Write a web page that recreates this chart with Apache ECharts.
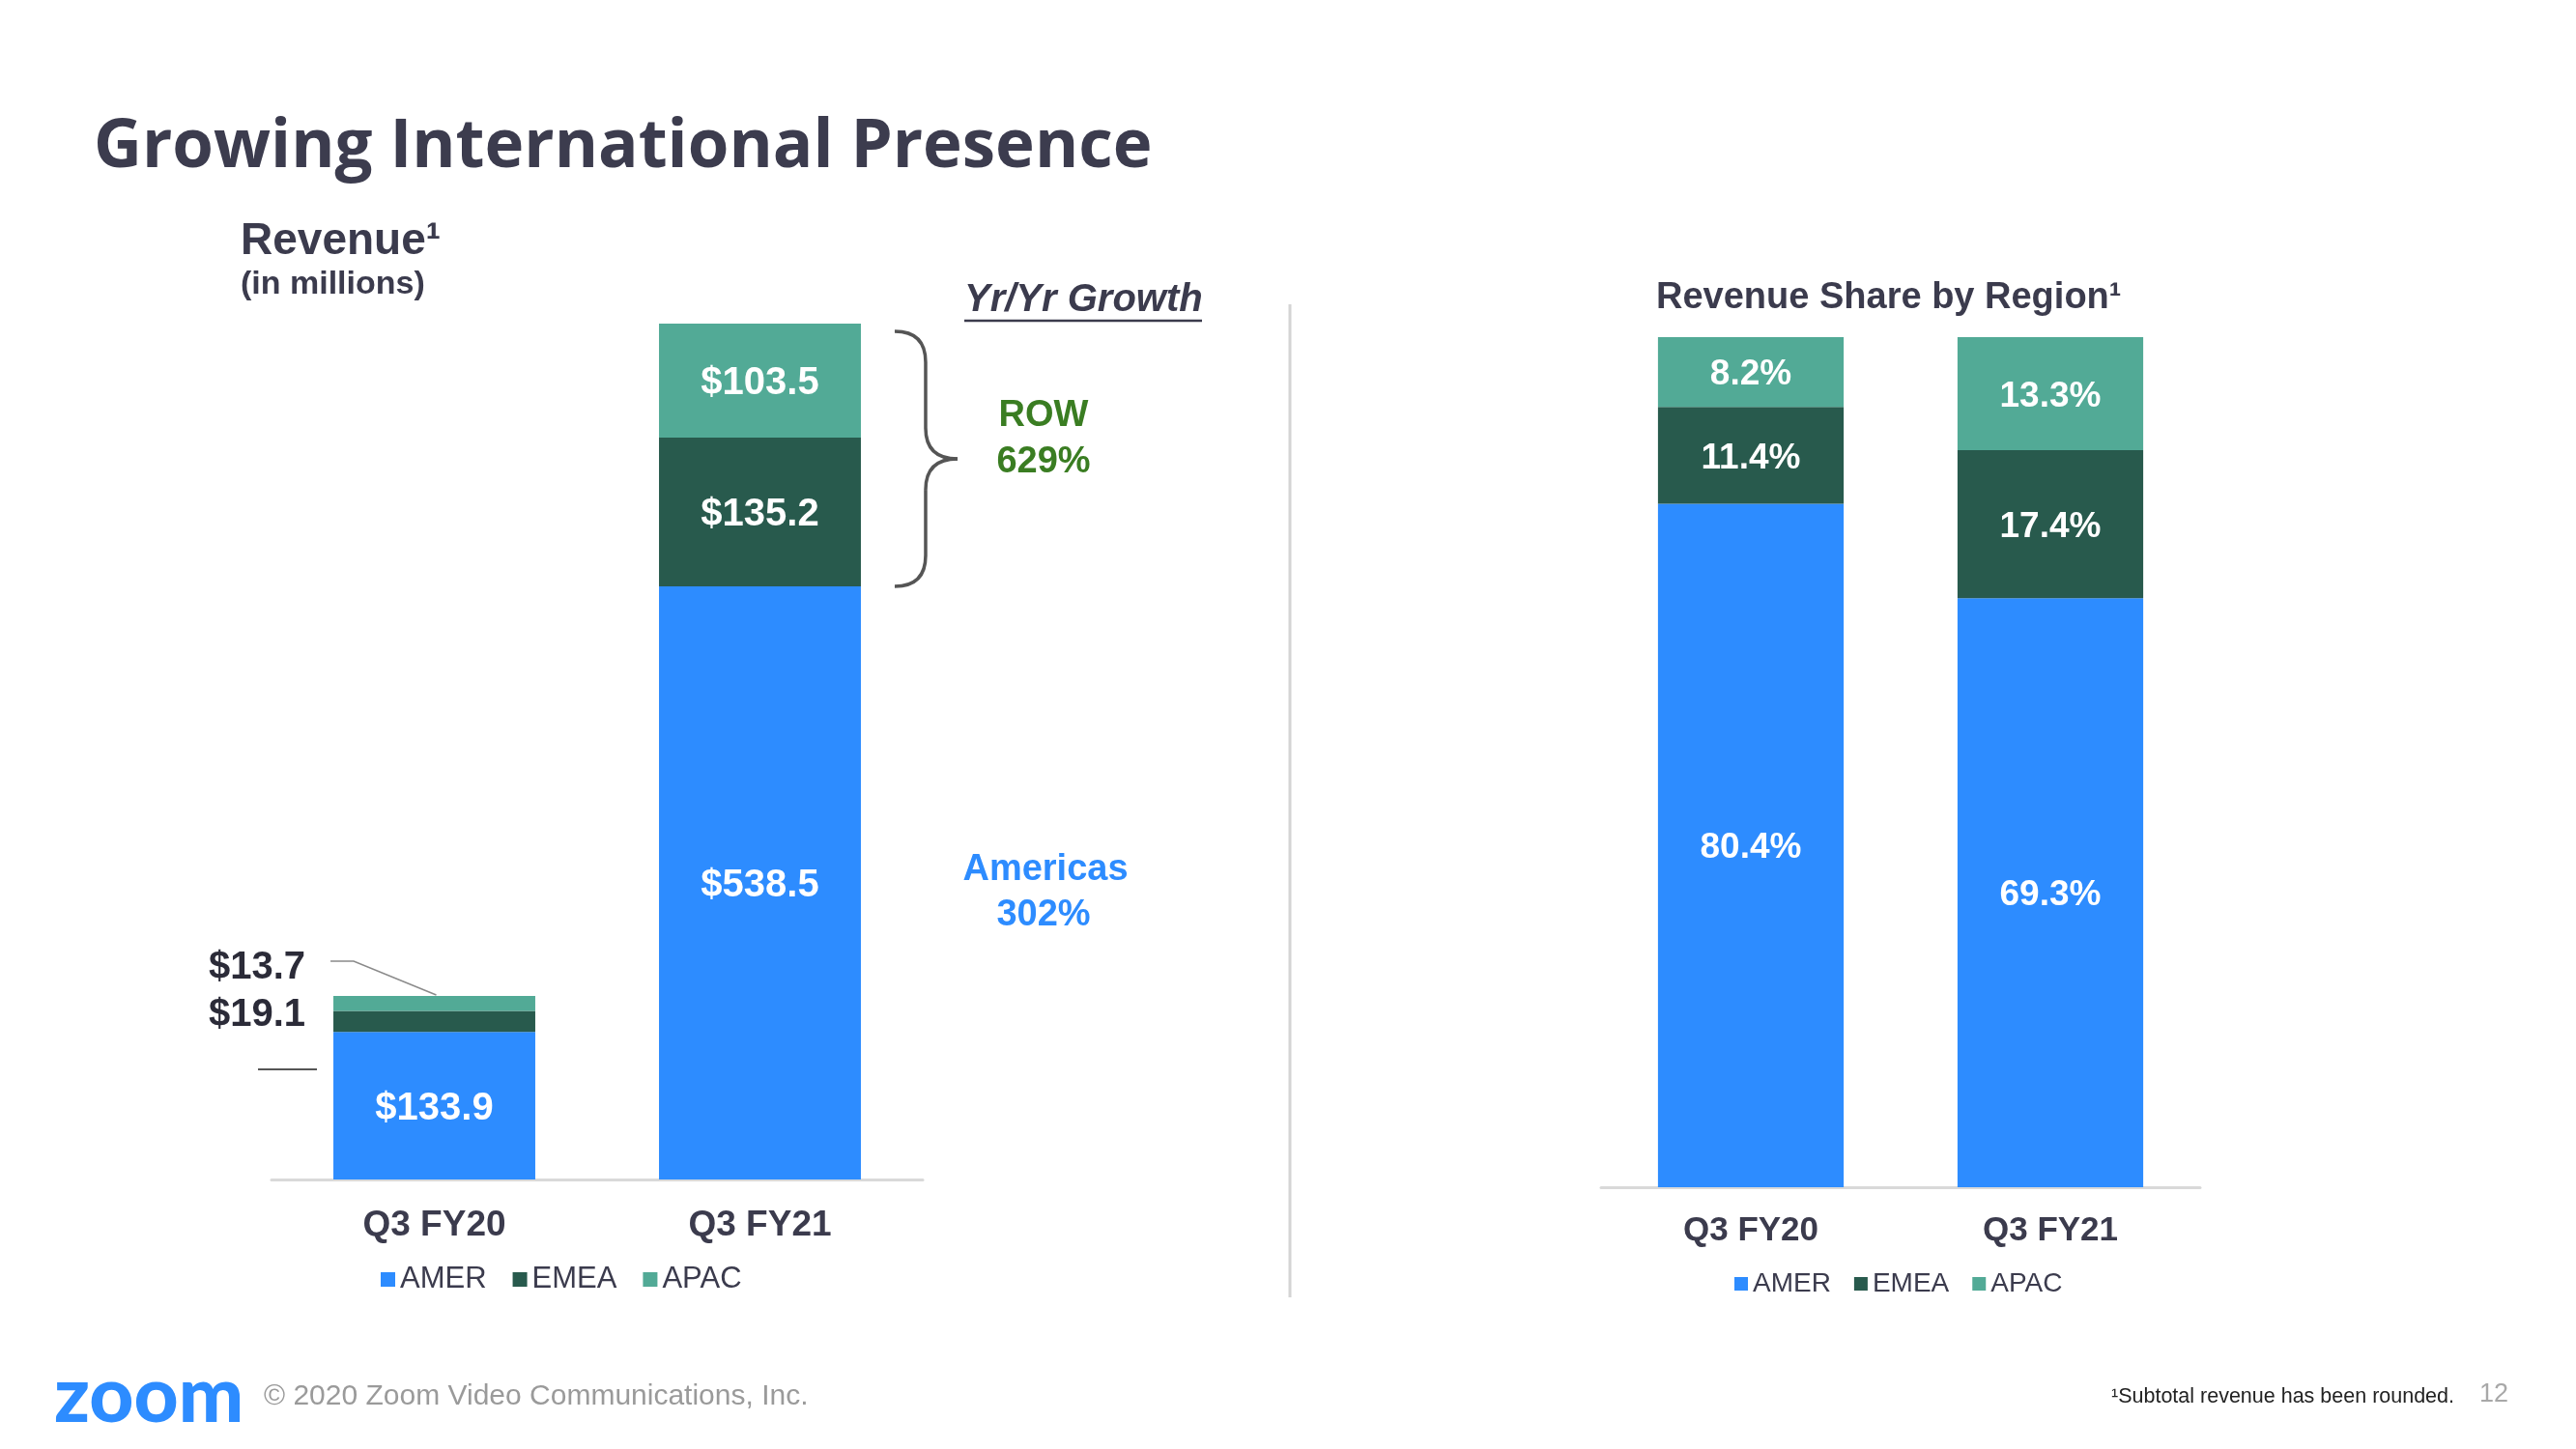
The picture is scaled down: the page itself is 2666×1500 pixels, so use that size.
<!DOCTYPE html>
<html>
<head>
<meta charset="utf-8">
<script src="https://cdn.jsdelivr.net/npm/echarts@6/dist/echarts.min.js"></script>
<style>
html,body{margin:0;padding:0;background:#fff;}
#chart{width:2666px;height:1500px;}
</style>
</head>
<body>
<div id="chart"></div>
<script>
// ---- data ----
const categories = ['Q3 FY20', 'Q3 FY21'];
const regions = ['AMER', 'EMEA', 'APAC'];
const amerRevenue = [133.9, 538.5];
const emeaRevenue = [19.1, 135.2];
const apacRevenue = [13.7, 103.5];
const amerShare = [80.4, 69.3];
const emeaShare = [11.4, 17.4];
const apacShare = [8.2, 13.3];
const rowGrowth = '629%';
const amerGrowth = '302%';

// ---- styles ----
const COLORS = { AMER: '#2D8CFF', EMEA: '#285A4D', APAC: '#52AA96' };
const DARK = '#3B3B4D';
const FONT = '"Liberation Sans", Arial, sans-serif';

const chart = echarts.init(document.getElementById('chart'));

function revLabel(fontSize) {
  return { show: true, position: 'inside', color: '#fff', fontFamily: FONT, fontWeight: 'bold', fontSize: fontSize,
    offset: [0, 3], formatter: p => '$' + p.value.toFixed(1) };
}
function shareLabel() {
  return { show: true, position: 'inside', color: '#fff', fontFamily: FONT, fontWeight: 'bold', fontSize: 37,
    offset: [0, 3], formatter: p => p.value.toFixed(1) + '%' };
}
// small segments of the first revenue bar get their labels outside, to the left
function outsideItem(v, dy) {
  return { value: v, label: { position: 'left', distance: 29, color: '#2B2B38', offset: [0, dy] } };
}

const revSeries = [
  { name: 'AMER', data: amerRevenue.slice() },
  { name: 'EMEA', data: emeaRevenue.map((v, i) => i === 0 ? outsideItem(v, -6) : v) },
  { name: 'APAC', data: apacRevenue.map((v, i) => i === 0 ? outsideItem(v, -37) : v) }
].map(s => ({
  type: 'bar', name: s.name, stack: 'rev', xAxisIndex: 0, yAxisIndex: 0, barWidth: '62%',
  itemStyle: { color: COLORS[s.name] }, label: revLabel(40), data: s.data
}));

const shareSeries = [
  { name: 'AMER', data: amerShare },
  { name: 'EMEA', data: emeaShare },
  { name: 'APAC', data: apacShare }
].map(s => ({
  type: 'bar', name: s.name, stack: 'share', xAxisIndex: 1, yAxisIndex: 1, barWidth: '62%',
  itemStyle: { color: COLORS[s.name] }, label: shareLabel(), data: s.data
}));

function xAxis(gridIndex, fontSize, margin) {
  return {
    type: 'category', gridIndex: gridIndex, data: categories,
    axisLine: { lineStyle: { color: '#D9D9D9', width: 3 } },
    axisTick: { show: false },
    axisLabel: { color: DARK, fontFamily: FONT, fontWeight: 'bold', fontSize: fontSize, margin: margin }
  };
}

const option = {
  backgroundColor: '#fff',
  animation: false,
  grid: [
    { left: 281, width: 674, top: 309, bottom: 279 },
    { left: 1657, width: 620, top: 349, bottom: 271 }
  ],
  xAxis: [xAxis(0, 37, 29), xAxis(1, 35, 28)],
  yAxis: [
    { type: 'value', gridIndex: 0, min: 0, max: 800, show: false, splitLine: { show: false } },
    { type: 'value', gridIndex: 1, min: 0, max: 100, show: false, splitLine: { show: false } }
  ],
  legend: [
    { data: regions, left: 389, top: 1304, itemWidth: 15, itemHeight: 15, itemGap: 27, icon: 'rect',
      textStyle: { color: DARK, fontFamily: FONT, fontSize: 31 } },
    { data: regions, left: 1790, top: 1310, itemWidth: 14, itemHeight: 14, itemGap: 24, icon: 'rect',
      textStyle: { color: DARK, fontFamily: FONT, fontSize: 28 } }
  ],
  series: revSeries.concat(shareSeries)
};
chart.setOption(option);

// ---- annotations positioned from the axes ----
function px(gi, cat, val) {
  return chart.convertToPixel({ xAxisIndex: gi, yAxisIndex: gi }, [cat, val]);
}
const total0 = amerRevenue[0] + emeaRevenue[0] + apacRevenue[0];
const total1 = amerRevenue[1] + emeaRevenue[1] + apacRevenue[1];
const c0 = px(0, categories[0], 0), c1 = px(0, categories[1], 0);
const band = c1[0] - c0[0];
const half = band * 0.62 / 2;
const top1 = px(0, categories[1], total1);
const amerTop1 = px(0, categories[1], amerRevenue[1]);
const top0 = px(0, categories[0], total0);

// brace next to the ROW segments
const xL = top1[0] + half + 35, xV = xL + 32, xT = xL + 65;
const yTop = top1[1] + 8, yBot = amerTop1[1];
const yMid = (yTop + yBot) / 2, r = 32;
const braceStyle = { stroke: '#555', lineWidth: 3.5, fill: null };
function curve(x1, y1, cx, cy, x2, y2) {
  return { type: 'bezierCurve', silent: true, shape: { x1: x1, y1: y1, cpx1: cx, cpy1: cy, x2: x2, y2: y2 }, style: braceStyle };
}
function seg(x1, y1, x2, y2, style) {
  return { type: 'line', silent: true, shape: { x1: x1, y1: y1, x2: x2, y2: y2 }, style: style };
}
const brace = [
  curve(xL, yTop, xV, yTop, xV, yTop + r),
  seg(xV, yTop + r, xV, yMid - r, braceStyle),
  curve(xV, yMid - r, xV, yMid, xT, yMid),
  curve(xT, yMid, xV, yMid, xV, yMid + r),
  seg(xV, yMid + r, xV, yBot - r, braceStyle),
  curve(xV, yBot - r, xV, yBot, xL, yBot)
];

function txt(x, y, text, size, weight, color, align, family, style) {
  return { type: 'text', x: x, y: y, silent: true,
    style: { text: text, fontSize: size, fontWeight: weight || 'normal', fontStyle: style || 'normal',
      fontFamily: family || FONT, fill: color, textAlign: align || 'left', textVerticalAlign: 'middle' } };
}
const bar0Left = top0[0] - half;

chart.setOption({
  graphic: [
    txt(97, 153, 'Growing International Presence', 69, 'bold', '#3C3C4E', 'left', '"Open Sans", sans-serif'),
    txt(249, 250, 'Revenue¹', 46, 'bold', DARK),
    txt(249, 295, '(in millions)', 34, 'bold', DARK),
    txt(998, 311, 'Yr/Yr Growth', 40, 'bold', DARK, 'left', FONT, 'italic'),
    seg(998, 332, 1244, 332, { stroke: DARK, lineWidth: 2.5 }),
    txt(1080, 431, 'ROW', 38, 'bold', '#3A7D22', 'center'),
    txt(1080, 479, rowGrowth, 38, 'bold', '#3A7D22', 'center'),
    txt(1082, 901, 'Americas', 38, 'bold', COLORS.AMER, 'center'),
    txt(1080, 948, amerGrowth, 38, 'bold', COLORS.AMER, 'center'),
    // leader lines beside the first revenue bar
    { type: 'polyline', silent: true,
      shape: { points: [[bar0Left - 3, top0[1] - 36], [bar0Left + 21, top0[1] - 36], [top0[0] + 2, top0[1] - 1]] },
      style: { stroke: '#8A8A8A', lineWidth: 1.5, fill: null } },
    seg(bar0Left - 78, 1107, bar0Left - 17, 1107, { stroke: '#555', lineWidth: 2 }),
    // divider
    seg(1335, 315, 1335, 1343, { stroke: '#D4D4D4', lineWidth: 3 }),
    txt(1714, 309, 'Revenue Share by Region¹', 38, 'bold', DARK),
    // footer
    txt(56, 1446, 'zoom', 80, 900, COLORS.AMER, 'left', 'Lato, "Open Sans", sans-serif'),
    txt(273, 1446, '© 2020 Zoom Video Communications, Inc.', 30, 'normal', '#9A9A9A'),
    txt(2185, 1446, '¹Subtotal revenue has been rounded.', 21.5, 'normal', '#222'),
    txt(2566, 1444, '12', 27, 'normal', '#A8A8A8')
  ].concat(brace)
});
</script>
</body>
</html>
